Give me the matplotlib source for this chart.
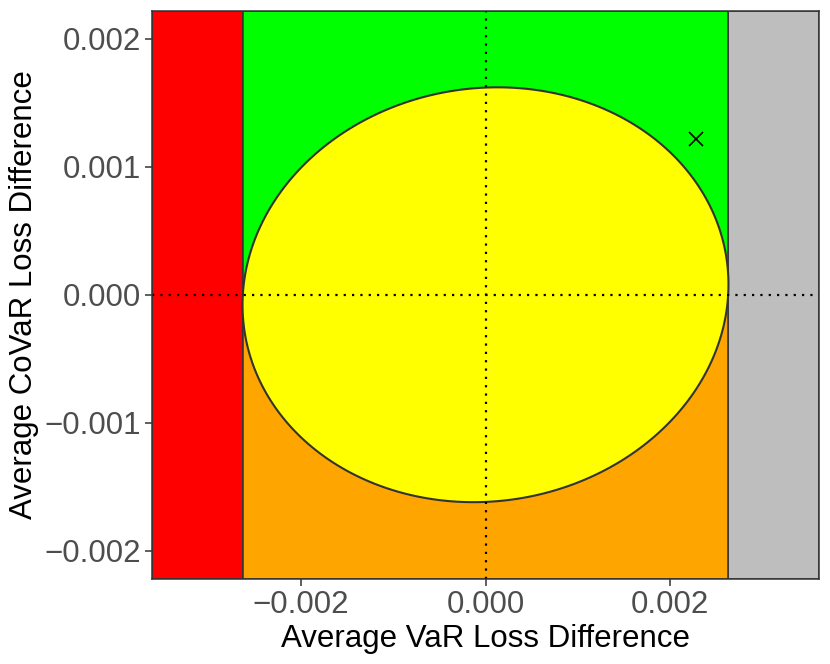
import numpy as np
import matplotlib
matplotlib.use("Agg")
import matplotlib.pyplot as plt
from matplotlib.patches import Rectangle, Polygon

plt.rcParams['font.family'] = ['Liberation Sans', 'DejaVu Sans']

# Data
x_limits = [-0.00361, 0.00361]
y_limits = [-0.00222, 0.00222]
var_bound = 0.00263            # half-width of ellipse / region boundaries
ellipse_b = 0.001618           # vertical semi-axis component
ellipse_c = 0.00008            # tilt component
point_x = [0.00228]
point_y = [0.00122]
x_ticks = [-0.002, 0.000, 0.002]
y_ticks = [-0.002, -0.001, 0.000, 0.001, 0.002]
x_label = "Average VaR Loss Difference"
y_label = "Average CoVaR Loss Difference"
region_colors = {"red": "#FF0000", "green": "#00FF00", "orange": "#FFA500",
                 "grey": "#BEBEBE", "yellow": "#FFFF00"}

fig = plt.figure(figsize=(8.3, 6.64), dpi=100)
ax = fig.add_axes([152/830, 85/664, (819-152)/830, (579-10.5)/664])

edge = "#333333"
lw_edge = 1.1
x0, x1 = x_limits
y0, y1 = y_limits
ax.add_patch(Rectangle((x0, y0), -var_bound - x0, y1 - y0, facecolor=region_colors["red"],
                       edgecolor=edge, linewidth=lw_edge, zorder=1))
ax.add_patch(Rectangle((var_bound, y0), x1 - var_bound, y1 - y0, facecolor=region_colors["grey"],
                       edgecolor=edge, linewidth=lw_edge, zorder=1))
ax.add_patch(Rectangle((-var_bound, 0), 2*var_bound, y1, facecolor=region_colors["green"],
                       edgecolor=edge, linewidth=lw_edge, zorder=1))
ax.add_patch(Rectangle((-var_bound, y0), 2*var_bound, -y0, facecolor=region_colors["orange"],
                       edgecolor=edge, linewidth=lw_edge, zorder=1))

t = np.linspace(0, 2*np.pi, 400)
ex = var_bound*np.cos(t)
ey = ellipse_b*np.sin(t) + ellipse_c*np.cos(t)
ax.add_patch(Polygon(np.column_stack([ex, ey]), closed=True, facecolor=region_colors["yellow"],
                     edgecolor=edge, linewidth=1.5, zorder=2))

dot_kw = dict(color="black", linewidth=1.6, linestyle=(0, (1, 2.75)), dash_capstyle="butt", zorder=3)
ax.axhline(0, **dot_kw)
ax.axvline(0, **dot_kw)

ax.plot(point_x, point_y, marker="x", color="black", markersize=10, markeredgewidth=1.2,
        linestyle="none", zorder=4)

ax.set_xlim(x_limits)
ax.set_ylim(y_limits)
ax.set_xticks(x_ticks)
ax.set_yticks(y_ticks)
ax.set_xticklabels([f"{v:.3f}".replace("-", "\u2212") for v in x_ticks])
ax.set_yticklabels([f"{v:.3f}".replace("-", "\u2212") for v in y_ticks])
ax.tick_params(axis="both", which="major", labelsize=22.5, colors="#333333",
               labelcolor="#4D4D4D", length=5, width=1.1, pad=3)
for s in ax.spines.values():
    s.set_color(edge)
    s.set_linewidth(1.1)
    s.set_zorder(5)

ax.set_xlabel(x_label, fontsize=22.5, color="black", labelpad=3)
ax.set_ylabel(y_label, fontsize=22.5, color="black", labelpad=3.8)

fig.savefig("out.png", dpi=100)
